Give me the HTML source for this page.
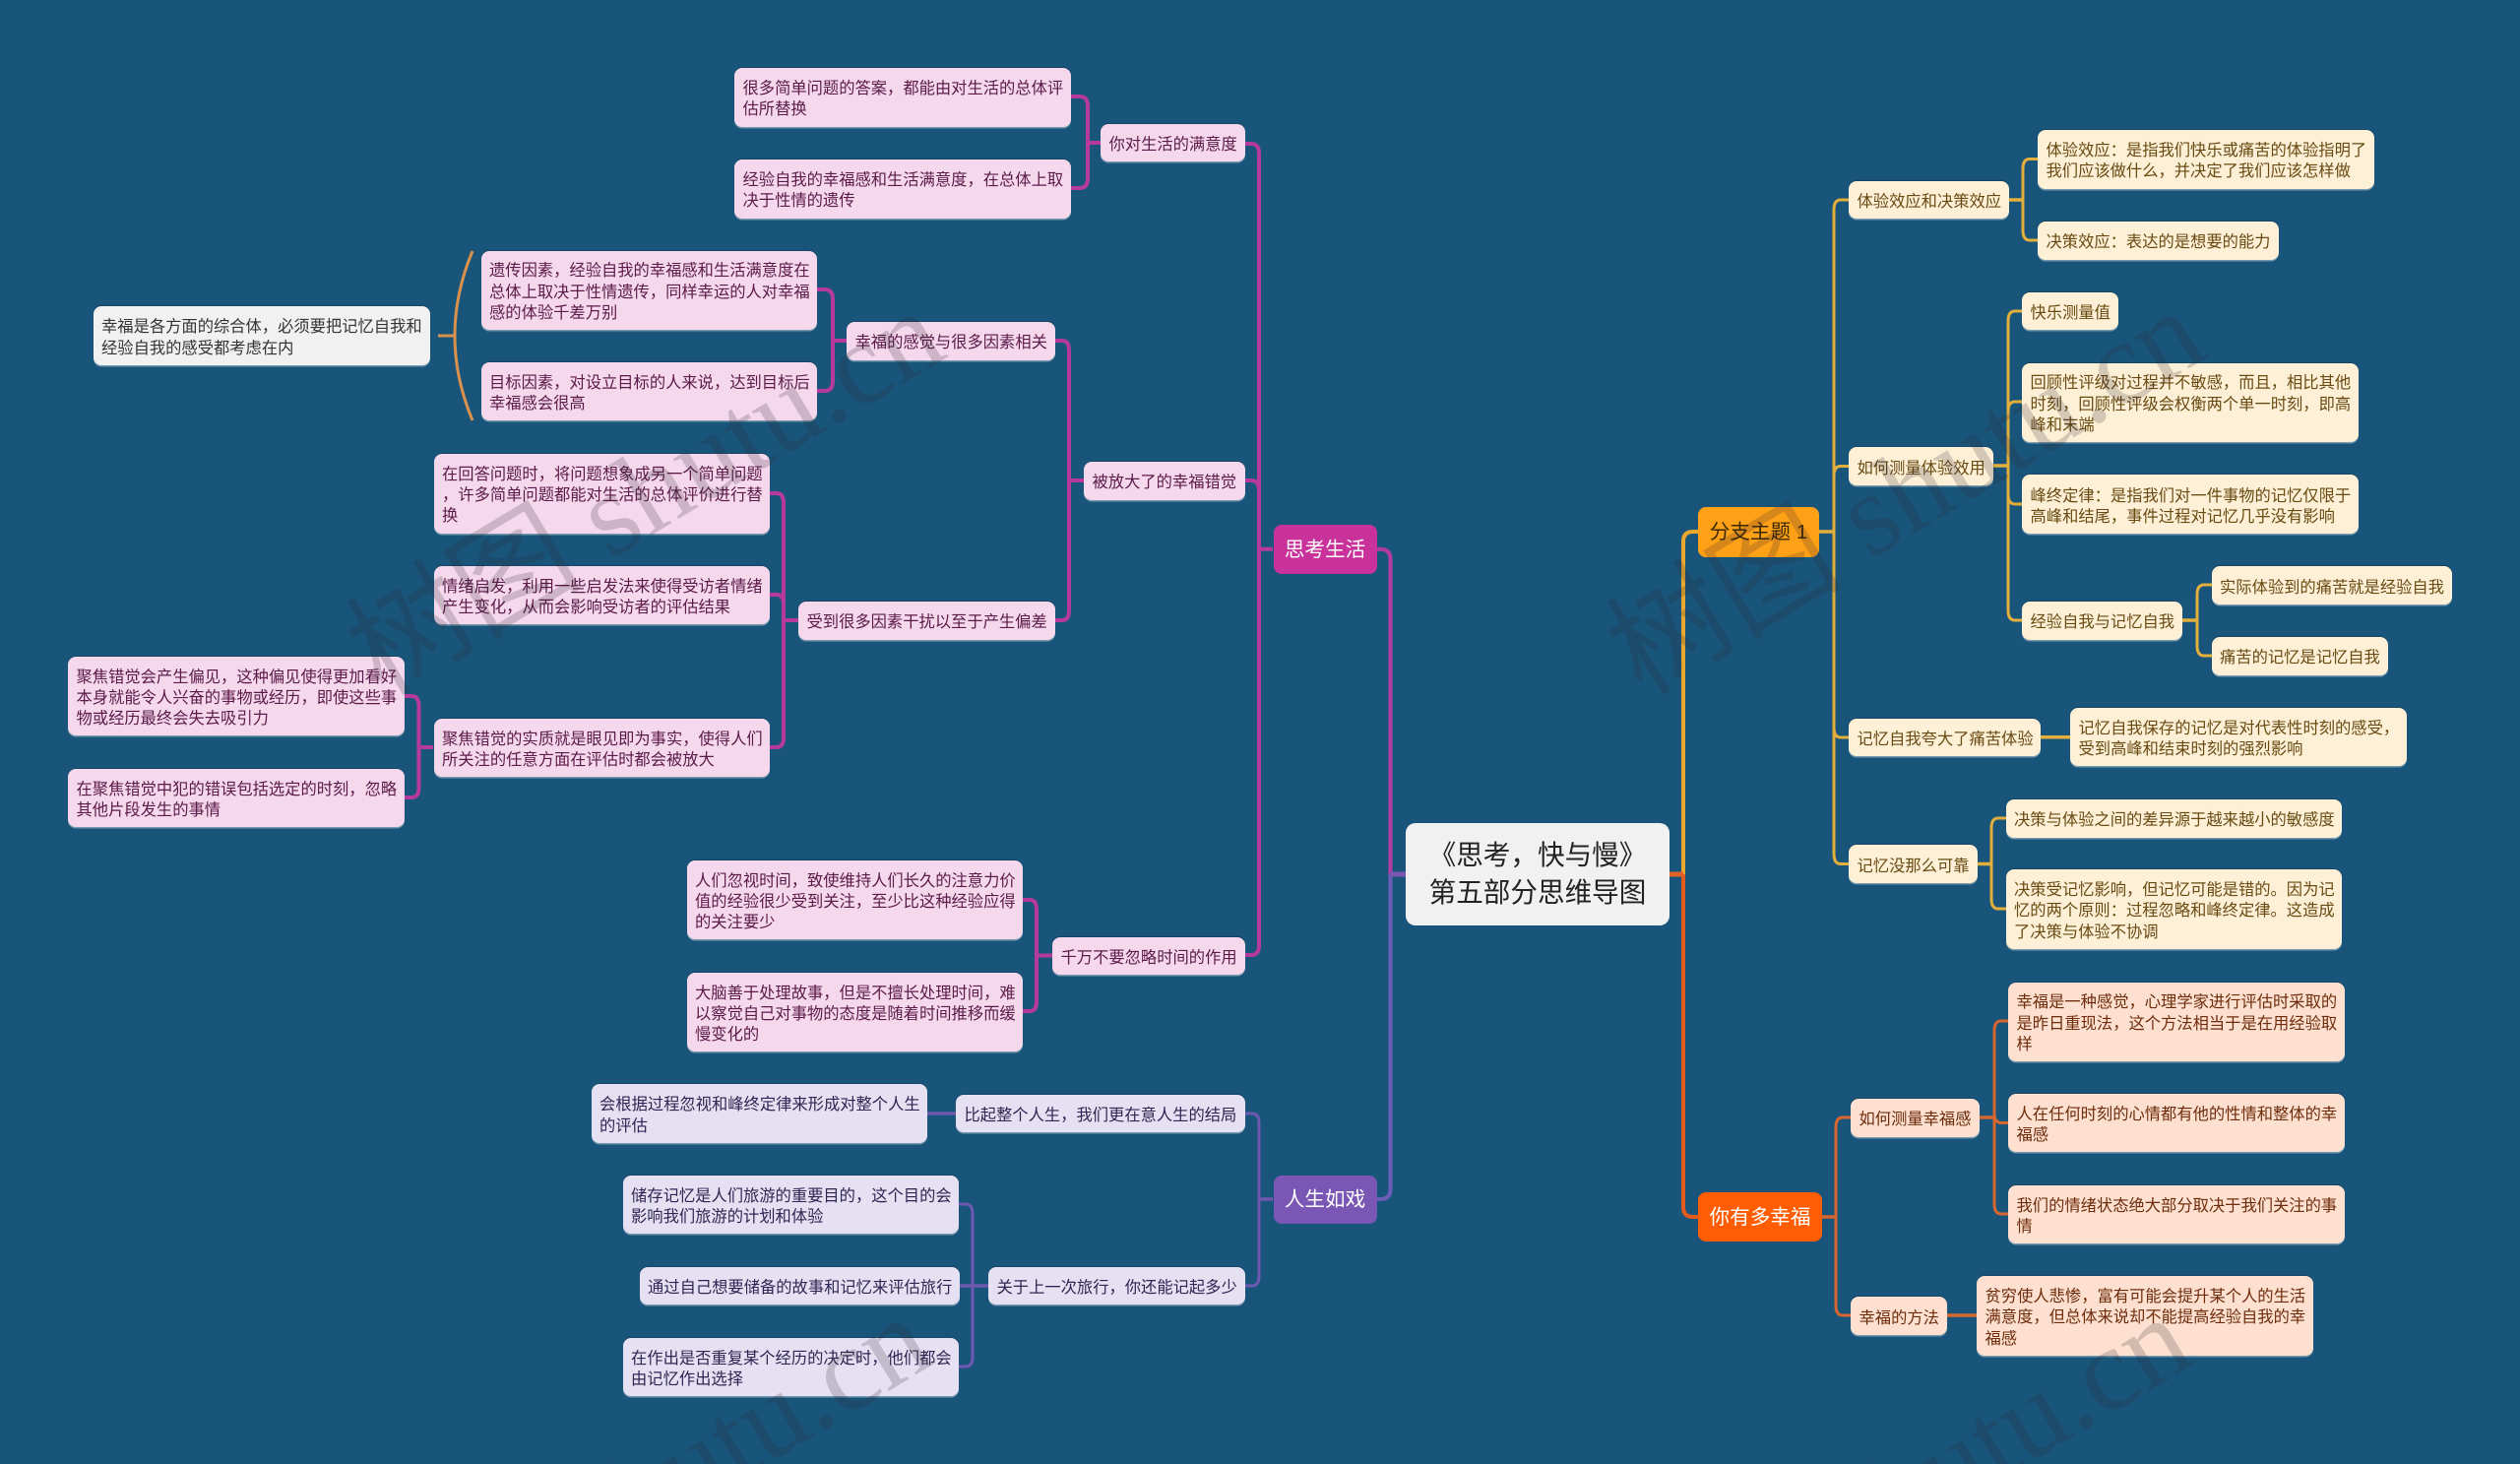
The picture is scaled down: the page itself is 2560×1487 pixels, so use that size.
<!DOCTYPE html>
<html lang="zh"><head><meta charset="utf-8"><title>《思考，快与慢》第五部分思维导图</title>
<style>
html,body{margin:0;padding:0;background:#19557a}
#c{position:relative;width:2560px;height:1487px;overflow:hidden;background:#19557a;font-family:"Liberation Sans","Noto Sans CJK SC",sans-serif}
svg{position:absolute;left:0;top:0}
.n{position:absolute;box-sizing:border-box;display:flex;align-items:center;padding-left:8.5px;padding-top:5.5px;border-radius:8px;font-size:16.3px;line-height:21.2px;white-space:nowrap;box-shadow:0 1.5px 0 rgba(255,255,255,.4),0 -1px 0 rgba(0,0,0,.18)}
.p{background:#f5d8ec;color:#5b1a48}
.l{background:#e6e1f2;color:#2e2552}
.y{background:#fdf0d6;color:#694a12}
.o{background:#fde0cf;color:#6e2c0c}
.w{background:#f1f1f1;color:#333}
.m{justify-content:center;padding:2px 0 0;font-size:20.6px;line-height:26px;box-shadow:none}
.r{position:absolute;box-sizing:border-box;display:flex;align-items:center;justify-content:center;text-align:center;border-radius:10px;background:#f1f1f1;color:#222;font-size:27.6px;line-height:38px;white-space:nowrap}
</style></head><body><div id="c">
<svg width="2560" height="1487" fill="none" stroke-linecap="butt">
<g stroke-width="4">
<path stroke="#b23c9f" d="M1398 557.7H1402Q1412.5 557.7 1412.5 568V888"/>
<path stroke="#6a5fb8" d="M1412.5 888V1208Q1412.5 1218 1402 1218H1398"/>
<path stroke="#eaa92e" d="M1710 888V550Q1710 540 1720 540H1725"/>
<path stroke="#e25a1c" d="M1710 888V1226Q1710 1236 1720 1236H1725"/>
</g>
<path stroke="#7a57b5" stroke-width="5" d="M1412 888H1428"/>
<path stroke="#e2622a" stroke-width="5" d="M1696 888H1710"/>
<g stroke="#b53a9b" stroke-width="4">
<path d="M1293 557.7H1279"/>
<path d="M1279 557.7V156Q1279 146 1271 146H1264"/>
<path d="M1279 557.7V498Q1279 488 1271 488H1264M1279 557V960Q1279 970 1271 970H1264"/>
<path d="M1118 145H1105"/>
<path d="M1105 145V108Q1105 98 1097 98H1088M1105 145V181Q1105 191 1097 191H1088"/>
<path d="M1101 488H1086"/>
<path d="M1086 488V356Q1086 346 1079 346H1072M1086 488V620Q1086 630 1079 630H1072"/>
<path d="M860 346H846"/>
<path d="M846 346V304Q846 294 838 294H830M846 346V387Q846 397 838 397H830"/>
<path d="M811 630H796"/>
<path d="M796 630V511Q796 501 789 501H782M796 630V614Q796 604 789 604H782M796 630V749Q796 759 789 759H782"/>
<path d="M440 759H425.5"/>
<path d="M425.5 759V717Q425.5 707 418 707H411M425.5 759V800Q425.5 810 418 810H411"/>
<path d="M1069 970.5H1053"/>
<path d="M1053 970V924Q1053 914 1046 914H1039M1053 970V1017Q1053 1027 1046 1027H1039"/>
</g>
<g stroke="#6f58b0" stroke-width="3">
<path stroke-width="3.5" d="M1293 1218H1279"/>
<path d="M1279 1218V1141Q1279 1131 1272 1131H1264M1279 1218V1296Q1279 1306 1272 1306H1264"/>
<path stroke-width="3.5" d="M971 1131H942"/>
<path stroke-width="3.5" d="M1004 1306H974"/>
<path d="M988 1306V1233Q988 1223 981 1223H974M988 1306V1378Q988 1388 981 1388H974"/>
</g>
<g stroke="#e3ae3c" stroke-width="3">
<path stroke-width="3.5" d="M1848 540H1863"/>
<path d="M1863 540V213Q1863 203 1870 203H1878M1863 540V483Q1863 473.5 1870 473.5H1878M1863 540V739Q1863 749 1870 749H1878M1863 540V867Q1863 877.5 1870 877.5H1878"/>
<path stroke-width="3.5" d="M2041 203H2055"/>
<path d="M2055 203V171.5Q2055 161.5 2062 161.5H2070M2055 203V234Q2055 244 2062 244H2070"/>
<path stroke-width="3.5" d="M2025 473H2040"/>
<path d="M2040 473V326Q2040 316 2047 316H2054M2040 473V418Q2040 408 2047 408H2054M2040 473V502Q2040 512 2047 512H2054M2040 473V620Q2040 630 2047 630H2054"/>
<path stroke-width="3.5" d="M2217 630H2232"/>
<path d="M2232 630V604Q2232 594 2239 594H2247M2232 630V656Q2232 666 2239 666H2247"/>
<path stroke-width="3.5" d="M2073 748.7H2103"/>
<path stroke-width="3.5" d="M2009 877.5H2023"/>
<path d="M2023 877V841Q2023 831 2030 831H2038M2023 877V913Q2023 923 2030 923H2038"/>
</g>
<g stroke="#d6662f" stroke-width="3">
<path stroke-width="3.5" d="M1851 1236H1865"/>
<path d="M1865 1236V1145Q1865 1135 1872 1135H1880M1865 1236V1326Q1865 1336 1872 1336H1880"/>
<path stroke-width="3.5" d="M2011 1135H2026"/>
<path d="M2026 1135V1047Q2026 1037 2033 1037H2040M2026 1135V1130.5Q2026 1140.5 2033 1140.5H2040M2026 1135V1223Q2026 1233 2033 1233H2040"/>
<path stroke-width="3.5" d="M1978 1336H2008"/>
</g>
<g stroke="#d9924e" stroke-width="3"><path d="M480 255Q444 341 480 427"/><path d="M445 341H462"/></g>
</svg>

<div class="n p" style="left:746px;top:68.5px;width:342px;height:60px">很多简单问题的答案，都能由对生活的总体评<br>估所替换</div>
<div class="n p" style="left:746px;top:161.5px;width:342px;height:60px">经验自我的幸福感和生活满意度，在总体上取<br>决于性情的遗传</div>
<div class="n p" style="left:1118px;top:126px;width:146.5px;height:38px">你对生活的满意度</div>
<div class="n p" style="left:488.5px;top:254.5px;width:341.5px;height:80px">遗传因素，经验自我的幸福感和生活满意度在<br>总体上取决于性情遗传，同样幸运的人对幸福<br>感的体验千差万别</div>
<div class="n p" style="left:488.5px;top:368px;width:341.5px;height:59px">目标因素，对设立目标的人来说，达到目标后<br>幸福感会很高</div>
<div class="n p" style="left:860px;top:327px;width:212px;height:38.5px">幸福的感觉与很多因素相关</div>
<div class="n w" style="left:94.5px;top:311px;width:342px;height:59.5px">幸福是各方面的综合体，必须要把记忆自我和<br>经验自我的感受都考虑在内</div>
<div class="n p" style="left:440.5px;top:460.5px;width:341.5px;height:81px">在回答问题时，将问题想象成另一个简单问题<br>，许多简单问题都能对生活的总体评价进行替<br>换</div>
<div class="n p" style="left:440.5px;top:574.5px;width:341.5px;height:59.5px">情绪启发，利用一些启发法来使得受访者情绪<br>产生变化，从而会影响受访者的评估结果</div>
<div class="n p" style="left:811px;top:611px;width:261px;height:38.5px">受到很多因素干扰以至于产生偏差</div>
<div class="n p" style="left:1101px;top:469px;width:163.5px;height:38.5px">被放大了的幸福错觉</div>
<div class="n p" style="left:69px;top:667px;width:342px;height:80px">聚焦错觉会产生偏见，这种偏见使得更加看好<br>本身就能令人兴奋的事物或经历，即使这些事<br>物或经历最终会失去吸引力</div>
<div class="n p" style="left:440.5px;top:729.5px;width:341.5px;height:59px">聚焦错觉的实质就是眼见即为事实，使得人们<br>所关注的任意方面在评估时都会被放大</div>
<div class="n p" style="left:69px;top:780.5px;width:342px;height:59.5px">在聚焦错觉中犯的错误包括选定的时刻，忽略<br>其他片段发生的事情</div>
<div class="n p" style="left:697.5px;top:873.5px;width:341.5px;height:80.5px">人们忽视时间，致使维持人们长久的注意力价<br>值的经验很少受到关注，至少比这种经验应得<br>的关注要少</div>
<div class="n p" style="left:697.5px;top:987.5px;width:341.5px;height:80.5px">大脑善于处理故事，但是不擅长处理时间，难<br>以察觉自己对事物的态度是随着时间推移而缓<br>慢变化的</div>
<div class="n p" style="left:1069px;top:951.5px;width:195.5px;height:38.5px">千万不要忽略时间的作用</div>
<div class="n l" style="left:600.5px;top:1101px;width:341.5px;height:59.5px">会根据过程忽视和峰终定律来形成对整个人生<br>的评估</div>
<div class="n l" style="left:971px;top:1111.5px;width:293.5px;height:38.5px">比起整个人生，我们更在意人生的结局</div>
<div class="n l" style="left:632.5px;top:1193.5px;width:341.5px;height:59.5px">储存记忆是人们旅游的重要目的，这个目的会<br>影响我们旅游的计划和体验</div>
<div class="n l" style="left:649.5px;top:1286.5px;width:325px;height:38.5px">通过自己想要储备的故事和记忆来评估旅行</div>
<div class="n l" style="left:632.5px;top:1358.5px;width:341.5px;height:59.5px">在作出是否重复某个经历的决定时，他们都会<br>由记忆作出选择</div>
<div class="n l" style="left:1004px;top:1286.5px;width:260.5px;height:38.5px">关于上一次旅行，你还能记起多少</div>

<div class="n m" style="left:1293.5px;top:532.5px;width:105px;height:50px;background:#c8329a;color:#fff">思考生活</div>
<div class="n m" style="left:1293.5px;top:1193.5px;width:105px;height:49.5px;background:#7a57b5;color:#fff">人生如戏</div>
<div class="r" style="left:1428px;top:836px;width:268px;height:104px">《思考，快与慢》<br>第五部分思维导图</div>
<div class="n m" style="left:1725px;top:515px;width:123px;height:50.5px;background:#ffa116;color:#3c2a06">分支主题 1</div>
<div class="n m" style="left:1725px;top:1211px;width:126px;height:50px;background:#fe5d03;color:#fff">你有多幸福</div>

<div class="n y" style="left:1878px;top:183.5px;width:163px;height:38.5px">体验效应和决策效应</div>
<div class="n y" style="left:2070px;top:131.5px;width:342px;height:60px">体验效应：是指我们快乐或痛苦的体验指明了<br>我们应该做什么，并决定了我们应该怎样做</div>
<div class="n y" style="left:2070px;top:224.5px;width:245px;height:39px">决策效应：表达的是想要的能力</div>
<div class="n y" style="left:2054px;top:296.5px;width:98px;height:38.5px">快乐测量值</div>
<div class="n y" style="left:2054px;top:368.5px;width:342px;height:80px">回顾性评级对过程并不敏感，而且，相比其他<br>时刻，回顾性评级会权衡两个单一时刻，即高<br>峰和末端</div>
<div class="n y" style="left:2054px;top:482px;width:342px;height:60px">峰终定律：是指我们对一件事物的记忆仅限于<br>高峰和结尾，事件过程对记忆几乎没有影响</div>
<div class="n y" style="left:1878px;top:454px;width:147px;height:39px">如何测量体验效用</div>
<div class="n y" style="left:2054px;top:611px;width:163px;height:38.5px">经验自我与记忆自我</div>
<div class="n y" style="left:2246.5px;top:575px;width:244.5px;height:39px">实际体验到的痛苦就是经验自我</div>
<div class="n y" style="left:2246.5px;top:647px;width:179.5px;height:38.5px">痛苦的记忆是记忆自我</div>
<div class="n y" style="left:1878px;top:729.5px;width:195px;height:38.5px">记忆自我夸大了痛苦体验</div>
<div class="n y" style="left:2103px;top:718.5px;width:341.5px;height:59.5px">记忆自我保存的记忆是对代表性时刻的感受，<br>受到高峰和结束时刻的强烈影响</div>
<div class="n y" style="left:1878px;top:858px;width:131px;height:39px">记忆没那么可靠</div>
<div class="n y" style="left:2037.5px;top:811.5px;width:341.5px;height:39px">决策与体验之间的差异源于越来越小的敏感度</div>
<div class="n y" style="left:2037.5px;top:883px;width:341.5px;height:80.5px">决策受记忆影响，但记忆可能是错的。因为记<br>忆的两个原则：过程忽略和峰终定律。这造成<br>了决策与体验不协调</div>
<div class="n o" style="left:2040px;top:997.5px;width:341.5px;height:80px">幸福是一种感觉，心理学家进行评估时采取的<br>是昨日重现法，这个方法相当于是在用经验取<br>样</div>
<div class="n o" style="left:2040px;top:1111px;width:341.5px;height:59px">人在任何时刻的心情都有他的性情和整体的幸<br>福感</div>
<div class="n o" style="left:2040px;top:1203.5px;width:341.5px;height:59.5px">我们的情绪状态绝大部分取决于我们关注的事<br>情</div>
<div class="n o" style="left:1880px;top:1116px;width:131px;height:38.5px">如何测量幸福感</div>
<div class="n o" style="left:1880px;top:1317px;width:98px;height:39px">幸福的方法</div>
<div class="n o" style="left:2008px;top:1296px;width:341.5px;height:80.5px">贫穷使人悲惨，富有可能会提升某个人的生活<br>满意度，但总体来说却不能提高经验自我的幸<br>福感</div>

<svg width="2560" height="1487" style="pointer-events:none">
<g font-family="'Liberation Serif','Noto Sans CJK SC',serif" font-size="120" fill="#2e2430" fill-opacity=".2">
<text transform="translate(388 708) rotate(-31)">树图 shutu.cn</text>
<text transform="translate(1668 708) rotate(-31)">树图 shutu.cn</text>
<text transform="translate(375 1730) rotate(-31)">树图 shutu.cn</text>
<text transform="translate(1655 1730) rotate(-31)">树图 shutu.cn</text>
</g></svg>
</div></body></html>
